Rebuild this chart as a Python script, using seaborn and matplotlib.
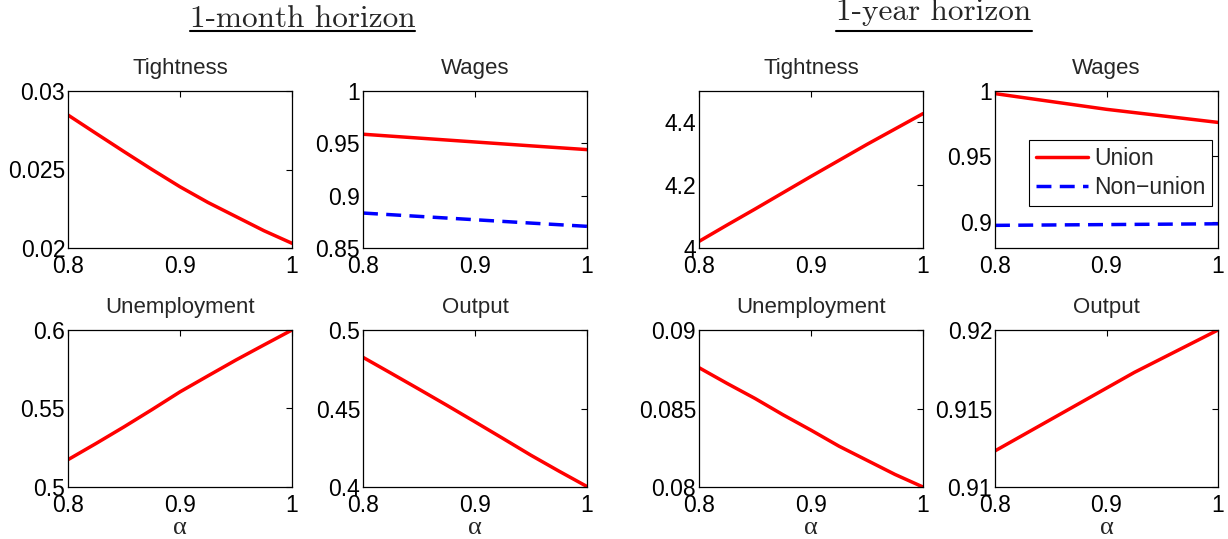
import matplotlib
matplotlib.use('Agg')
import matplotlib.pyplot as plt
import seaborn as sns
import pandas as pd
from matplotlib.lines import Line2D
from matplotlib.ticker import FuncFormatter

# values
alpha = [0.8, 0.85, 0.9, 0.95, 1.0]
alpha_fine = [0.8, 0.825, 0.85, 0.875, 0.9, 0.925, 0.95, 0.975, 1.0]

# curved series read at the finer grid
month_tightness = [0.02847, 0.0273, 0.02614, 0.0250, 0.0239, 0.0229, 0.0220, 0.0211, 0.0203]
month_unemployment = [0.5174, 0.5277, 0.5383, 0.5493, 0.5606, 0.5708, 0.5809, 0.5905, 0.6000]
month_output = [0.4826, 0.4725, 0.4623, 0.4520, 0.4415, 0.4309, 0.4202, 0.4101, 0.4003]
year_tightness = [4.021, 4.073, 4.124, 4.176, 4.228, 4.279, 4.330, 4.379, 4.428]
year_wage_union = [0.998, 0.995, 0.992, 0.989, 0.986, 0.9835, 0.981, 0.9785, 0.976]
year_unemployment = [0.0876, 0.0866, 0.08564, 0.0846, 0.08362, 0.0826, 0.0817, 0.0808, 0.0800]
year_output = [0.9123, 0.9133, 0.9143, 0.9153, 0.9163, 0.9173, 0.9182, 0.9191, 0.9200]

# near-straight series
month_wage_union = [0.9587, 0.9550, 0.9513, 0.9476, 0.9440]
month_wage_nonunion = [0.8834, 0.8802, 0.8770, 0.8738, 0.8707]
year_wage_nonunion = [0.8973, 0.8976, 0.8979, 0.8982, 0.8985]

x_ticks = [0.8, 0.9, 1.0]

W, H = 1228, 539
FS = 16.5

sns.set_style('white')
plt.rcParams['font.family'] = ['Liberation Sans', 'DejaVu Sans']


def rect(cols, rows):
    l, r = cols
    t, b = rows
    return [l / W, 1 - b / H, (r - l) / W, (b - t) / H]


def style_axes(ax, title, ylim, yticks, xlabel=False):
    ax.set_xlim(0.8, 1.0)
    ax.set_ylim(*ylim)
    ax.set_xticks(x_ticks)
    ax.set_yticks(yticks)
    fmt = FuncFormatter(lambda v, pos: '%g' % round(v, 6))
    ax.xaxis.set_major_formatter(fmt)
    ax.yaxis.set_major_formatter(fmt)
    ax.tick_params(direction='in', length=4, width=0.8, labelsize=FS,
                   top=True, right=True, colors='black')
    ax.tick_params(axis='x', pad=5)
    ax.tick_params(axis='y', pad=2)
    for s in ax.spines.values():
        s.set_color('black')
        s.set_linewidth(0.9)
    ax.set_title(title, fontsize=16, pad=12)
    if xlabel:
        ax.set_xlabel('α', fontsize=19, family=['Liberation Serif', 'DejaVu Serif'], labelpad=0)
    else:
        ax.set_xlabel('')
    ax.set_ylabel('')


def draw(ax, x, y, color='#ff0000', dashed=False, label=None):
    df = pd.DataFrame({'alpha': x, 'value': y})
    ls = (0, (4.3, 2.4)) if dashed else '-'
    sns.lineplot(data=df, x='alpha', y='value', ax=ax, color=color,
                 linewidth=2.5, linestyle=ls, label=label, legend=False)


fig = plt.figure(figsize=(W / 100, H / 100), dpi=100)

cols = [(68, 292), (363, 587), (699, 923), (995, 1218)]
rows = [(91, 248), (330, 487)]

# 1-month horizon
ax = fig.add_axes(rect(cols[0], rows[0]))
draw(ax, alpha_fine, month_tightness)
style_axes(ax, 'Tightness', (0.02, 0.03), [0.02, 0.025, 0.03])

ax = fig.add_axes(rect(cols[1], rows[0]))
draw(ax, alpha, month_wage_union)
draw(ax, alpha, month_wage_nonunion, color='#0000ff', dashed=True)
style_axes(ax, 'Wages', (0.85, 1.0), [0.85, 0.9, 0.95, 1.0])

ax = fig.add_axes(rect(cols[0], rows[1]))
draw(ax, alpha_fine, month_unemployment)
style_axes(ax, 'Unemployment', (0.5, 0.6), [0.5, 0.55, 0.6], xlabel=True)

ax = fig.add_axes(rect(cols[1], rows[1]))
draw(ax, alpha_fine, month_output)
style_axes(ax, 'Output', (0.4, 0.5), [0.4, 0.45, 0.5], xlabel=True)

# 1-year horizon
ax = fig.add_axes(rect(cols[2], rows[0]))
draw(ax, alpha_fine, year_tightness)
style_axes(ax, 'Tightness', (4.0, 4.5), [4.0, 4.2, 4.4])

ax = fig.add_axes(rect(cols[3], rows[0]))
draw(ax, alpha_fine, year_wage_union, label='Union')
draw(ax, alpha, year_wage_nonunion, color='#0000ff', dashed=True, label='Non\u2212union')
style_axes(ax, 'Wages', (0.88, 1.0), [0.9, 0.95, 1.0])
leg = ax.legend(loc='upper right', bbox_to_anchor=(0.975, 0.69), fontsize=FS,
                frameon=True, fancybox=False, framealpha=1, edgecolor='black',
                handlelength=2.3, handletextpad=0.25, labelspacing=0.3,
                borderpad=0.3, borderaxespad=0)
leg.get_frame().set_linewidth(0.8)

ax = fig.add_axes(rect(cols[2], rows[1]))
draw(ax, alpha_fine, year_unemployment)
style_axes(ax, 'Unemployment', (0.08, 0.09), [0.08, 0.085, 0.09], xlabel=True)

ax = fig.add_axes(rect(cols[3], rows[1]))
draw(ax, alpha_fine, year_output)
style_axes(ax, 'Output', (0.91, 0.92), [0.91, 0.915, 0.92], xlabel=True)

# group headings, underlined like the LaTeX original
headings = [('1-month horizon', 302.5, 27), ('1-year horizon', 934, 20)]
texts = []
for txt, cx, base in headings:
    t = fig.text(cx / W, 1 - base / H, txt, ha='center', va='baseline',
                 fontsize=22.5, family=['cmr10', 'DejaVu Serif'])
    texts.append(t)

fig.canvas.draw()
renderer = fig.canvas.get_renderer()
for t in texts:
    bb = t.get_window_extent(renderer)
    y = 1 - 31 / H
    fig.add_artist(Line2D([bb.x0 / W, bb.x1 / W], [y, y], transform=fig.transFigure,
                          color='black', linewidth=1.5))

fig.savefig('out.png', dpi=100)
